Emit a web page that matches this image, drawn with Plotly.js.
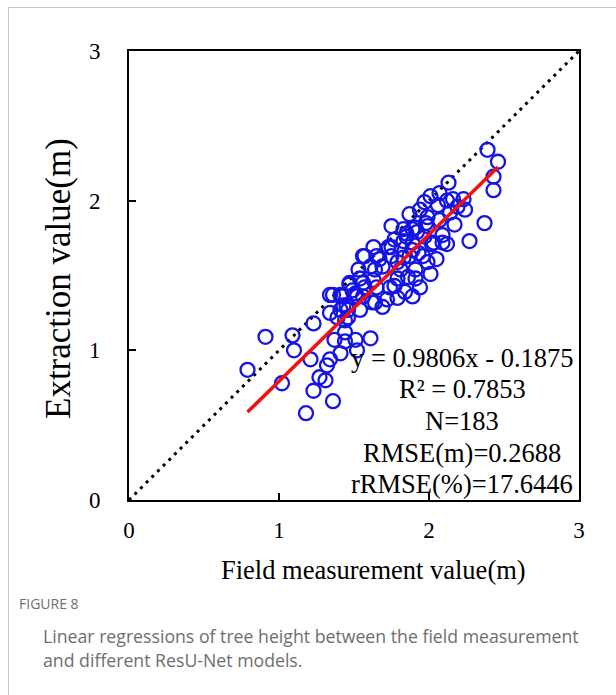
<!DOCTYPE html>
<html>
<head>
<meta charset="utf-8">
<script src="https://cdn.plot.ly/plotly-3.0.1.min.js"></script>
<style>
  html, body { margin: 0; padding: 0; background: #fff; }
  #wrap { position: relative; width: 616px; height: 695px; overflow: hidden; }
  #frame { position: absolute; left: 8px; top: 7px; width: 700px; height: 800px;
           border-left: 1px solid #c8c8c8; border-top: 1px solid #c8c8c8; }
  #chart { position: absolute; left: 0; top: 0; width: 616px; height: 695px; }
</style>
</head>
<body>
<div id="wrap">
  <div id="frame"></div>
  <div id="chart"></div>
</div>
<script>
// Field measurement (x) and extraction value (y), metres
const fieldValues = [
  0.79, 0.91, 1.09, 1.10, 1.02, 1.23, 1.21, 1.18, 1.23, 1.27,
  1.31, 1.32, 1.34, 1.36, 1.41, 1.37, 1.44, 1.51, 1.52, 1.61,
  1.34, 1.41, 1.46, 1.34, 1.41, 1.49, 1.52, 1.45, 1.62, 1.47,
  1.56, 1.44, 1.63, 1.73, 1.75, 1.65, 1.56, 1.53, 1.61, 1.69,
  1.79, 1.85, 1.92, 1.89, 1.87, 1.96, 1.99, 2.03, 2.09, 1.79,
  1.91, 1.84, 1.79, 1.74, 1.72, 1.65, 1.63, 1.57, 1.54, 1.47,
  1.51, 1.43, 1.42, 1.36, 1.46, 1.44, 1.39, 1.56, 1.64, 1.69,
  1.89, 2.39, 2.46, 2.43, 2.43, 2.37, 2.27, 2.13, 2.16, 2.23,
  1.97, 1.94, 2.06, 2.07, 1.99, 2.14, 2.19, 1.89, 1.99, 1.75,
  1.83, 2.09, 2.12, 2.02, 1.97, 1.89, 1.83, 1.75, 1.57, 1.67,
  1.64, 1.83, 1.91, 1.81, 1.86, 1.93, 2.12, 1.85, 1.91, 1.98,
  1.54, 1.77, 1.94, 2.01, 2.05, 2.17, 2.24, 2.07, 2.01, 1.87,
  1.77
];
const extractionValues = [
  0.87, 1.09, 1.10, 1.00, 0.78, 1.18, 0.94, 0.58, 0.73, 0.82,
  0.80, 0.90, 0.94, 0.66, 0.98, 1.07, 1.06, 1.07, 1.00, 1.08,
  1.25, 1.27, 1.22, 1.37, 1.37, 1.40, 1.36, 1.30, 1.32, 1.45,
  1.45, 1.12, 1.69, 1.69, 1.63, 1.63, 1.63, 1.54, 1.56, 1.56,
  1.59, 1.76, 1.79, 1.67, 1.63, 1.63, 1.59, 1.72, 1.72, 1.48,
  1.48, 1.39, 1.35, 1.42, 1.34, 1.42, 1.47, 1.42, 1.48, 1.44,
  1.38, 1.30, 1.36, 1.37, 1.27, 1.20, 1.22, 1.36, 1.32, 1.29,
  1.36, 2.34, 2.26, 2.16, 2.07, 1.85, 1.73, 2.12, 2.01, 2.01,
  1.99, 1.94, 1.97, 1.87, 1.89, 1.92, 1.96, 1.81, 1.83, 1.83,
  1.81, 1.77, 1.71, 1.71, 1.76, 1.72, 1.73, 1.69, 1.63, 1.61,
  1.54, 1.62, 1.54, 1.54, 1.49, 1.65, 2.00, 1.78, 1.82, 1.85,
  1.27, 1.43, 1.42, 1.51, 1.61, 1.84, 1.94, 2.05, 2.03, 1.91,
  1.74
];
// Regression y = slope * x + intercept
const regSlope = 0.9806;
const regIntercept = -0.1875;
const statLines = ["y = 0.9806x - 0.1875", "R² = 0.7853", "N=183", "RMSE(m)=0.2688", "rRMSE(%)=17.6446"];
const axisRange = [0, 3];
const tickValues = [0, 1, 2, 3];
const tickLabels = ["0", "1", "2", "3"];
const xTitle = "Field measurement value(m)";
const yTitle = "Extraction value(m)";

const xMin = Math.min(...fieldValues), xMax = Math.max(...fieldValues);
const regX = [xMin, xMax];
const regY = regX.map(v => regSlope * v + regIntercept);

const serif = "Liberation Serif, Times New Roman, serif";
const sans = "Open Sans, Noto Sans, sans-serif";

const traces = [
  {
    x: axisRange, y: axisRange, mode: "lines", type: "scatter",
    line: { color: "#000", width: 3, dash: "3px,5px" }, hoverinfo: "skip"
  },
  {
    x: fieldValues, y: extractionValues, mode: "markers", type: "scatter",
    marker: { symbol: "circle-open", size: 14, color: "#1414e6", line: { width: 2.3, color: "#1414e6" } }
  },
  {
    x: regX, y: regY, mode: "lines", type: "scatter",
    line: { color: "#f01010", width: 3.5 }
  }
];

const px = v => (v - 129) / 450;   // page pixel -> paper x
const py = v => (500 - v) / 449;   // page pixel -> paper y

const annotations = statLines.map((t, i) => ({
  xref: "paper", yref: "paper", x: px(462), y: py(358 + i * 31.5),
  text: t, showarrow: false, xanchor: "center", yanchor: "middle",
  font: { family: serif, size: 26.5, color: "#000" }
}));
annotations.push({
  xref: "paper", yref: "paper", x: px(373), y: py(570),
  text: xTitle, showarrow: false, xanchor: "center", yanchor: "middle",
  font: { family: serif, size: 26.5, color: "#000" }
});
annotations.push({
  xref: "paper", yref: "paper", x: px(58), y: py(279), textangle: -90,
  text: yTitle, showarrow: false, xanchor: "center", yanchor: "middle",
  font: { family: serif, size: 35, color: "#000" }
});
annotations.push({
  xref: "paper", yref: "paper", x: px(17), y: py(603),
  text: "FIGURE 8", showarrow: false, xanchor: "left", yanchor: "middle",
  font: { family: sans, size: 14, color: "#6e6e6e" }
});
annotations.push({
  xref: "paper", yref: "paper", x: px(41), y: py(636),
  text: "Linear regressions of tree height between the field measurement", showarrow: false,
  xanchor: "left", yanchor: "middle", font: { family: sans, size: 17.7, color: "#6e6e6e" }
});
annotations.push({
  xref: "paper", yref: "paper", x: px(41), y: py(660),
  text: "and different ResU-Net models.", showarrow: false,
  xanchor: "left", yanchor: "middle", font: { family: sans, size: 17.7, color: "#6e6e6e" }
});

const axisCommon = {
  range: axisRange, tickvals: tickValues, ticktext: tickLabels,
  showgrid: false, zeroline: false, showline: true, mirror: true,
  linecolor: "#000", linewidth: 2, ticks: "inside", ticklen: 7, tickwidth: 2, tickcolor: "#000",
  tickfont: { family: serif, size: 23, color: "#000" }, fixedrange: true, automargin: false
};

const layout = {
  width: 616, height: 695,
  margin: { l: 129, r: 37, t: 51, b: 195 },
  paper_bgcolor: "rgba(0,0,0,0)", plot_bgcolor: "#fff",
  showlegend: false,
  xaxis: Object.assign({}, axisCommon, { ticklabelstandoff: 8 }),
  yaxis: Object.assign({}, axisCommon, { ticklabelstandoff: 22 }),
  annotations: annotations
};

Plotly.newPlot("chart", traces, layout, { displayModeBar: false, staticPlot: true });
</script>
</body>
</html>
